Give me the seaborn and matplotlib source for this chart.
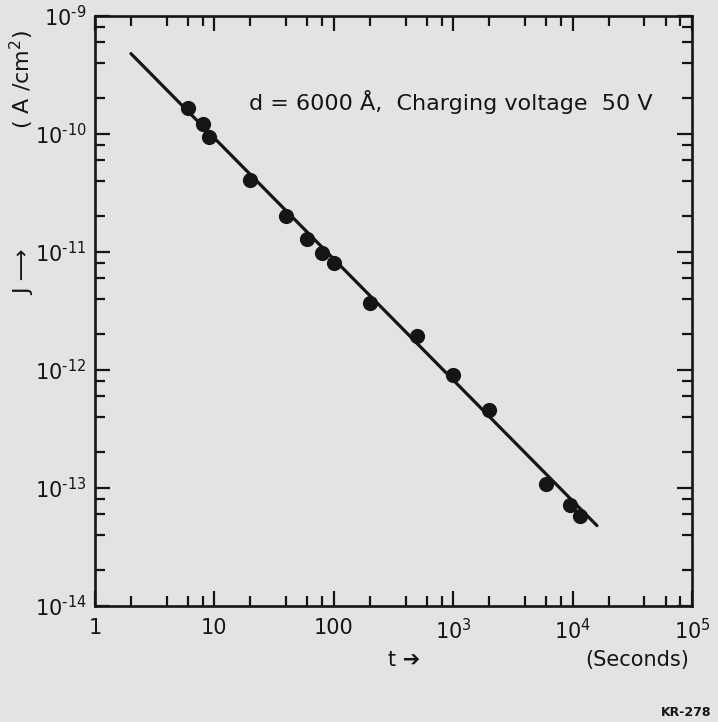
import numpy as np
import pandas as pd
import matplotlib
matplotlib.use('Agg')
import matplotlib.pyplot as plt
import seaborn as sns
from matplotlib.ticker import FixedLocator, FixedFormatter, NullFormatter

# ---- data ----
time_s = [6, 8, 9, 20, 40, 60, 80, 100, 200, 500, 1000, 2000, 6000, 9500, 11500]
current = [1.66e-10, 1.22e-10, 9.4e-11, 4.07e-11, 2.02e-11, 1.29e-11, 9.8e-12,
           8.07e-12, 3.7e-12, 1.94e-12, 9.1e-13, 4.58e-13, 1.08e-13, 7.2e-14, 5.8e-14]
fit_time = [2, 16000]
fit_current = [4.8e-10, 4.8e-14]

x_ticks = [1, 10, 100, 1e3, 1e4, 1e5]
x_labels = ['1', '10', '100', r'$10^3$', r'$10^4$', r'$10^5$']
y_ticks = [1e-14, 1e-13, 1e-12, 1e-11, 1e-10, 1e-9]
y_labels = ['$10^{\u2010' + e + '}$' for e in ['14', '13', '12', '11', '10', '9']]
minor_mult = [2, 4, 6, 8]

points = pd.DataFrame({'t': time_s, 'J': current})
fit = pd.DataFrame({'t': fit_time, 'J': fit_current})

paper = '#e3e3e1'
ink = '#151515'

sns.set_style('ticks')
plt.rcParams['font.family'] = ['DejaVu Sans']
plt.rcParams['mathtext.fontset'] = 'dejavusans'

fig = plt.figure(figsize=(7.18, 7.22), dpi=100, facecolor=paper)
ax = fig.add_axes([95 / 718, 1 - 606 / 722, 597 / 718, 590 / 722])
ax.set_facecolor(paper)
ax.set_xscale('log')
ax.set_yscale('log')

sns.lineplot(data=fit, x='t', y='J', ax=ax, color=ink, linewidth=2.3,
             estimator=None, sort=False, legend=False)
sns.scatterplot(data=points, x='t', y='J', ax=ax, color=ink, s=120,
                edgecolor=ink, linewidth=0, legend=False, zorder=3)

ax.set_xlim(1, 1e5)
ax.set_ylim(1e-14, 1e-9)

ax.xaxis.set_major_locator(FixedLocator(x_ticks))
ax.xaxis.set_major_formatter(FixedFormatter(x_labels))
ax.yaxis.set_major_locator(FixedLocator(y_ticks))
ax.yaxis.set_major_formatter(FixedFormatter(y_labels))
x_minor = [m * 10.0 ** k for k in range(0, 5) for m in minor_mult]
y_minor = [m * 10.0 ** k for k in range(-14, -9) for m in minor_mult]
ax.xaxis.set_minor_locator(FixedLocator(x_minor))
ax.yaxis.set_minor_locator(FixedLocator(y_minor))
ax.xaxis.set_minor_formatter(NullFormatter())
ax.yaxis.set_minor_formatter(NullFormatter())

ax.tick_params(which='both', direction='in', top=True, right=True,
               color=ink, labelcolor=ink, width=1.6)
ax.tick_params(which='major', length=11, labelsize=15)
ax.tick_params(which='minor', length=7)
ax.tick_params(axis='x', which='major', pad=9)
ax.tick_params(axis='y', which='major', pad=6)
for sp in ax.spines.values():
    sp.set_color(ink)
    sp.set_linewidth(1.9)

ax.set_xlabel('')
ax.set_ylabel('')

ax.text(0.596, 0.854, 'd = 6000 Å,  Charging voltage  50 V', transform=ax.transAxes,
        ha='center', va='center', fontsize=16, color=ink)

fig.text(22 / 718, 1 - 80 / 722, r'( A /cm$^2$)', rotation=90, ha='center', va='center',
         fontsize=16, color=ink)
fig.text(24 / 718, 1 - 272 / 722, 'J \u27F6', rotation=90, ha='center', va='center',
         fontsize=16, color=ink)
fig.text(404 / 718, 1 - 660 / 722, 't \u2794', ha='center', va='center',
         fontsize=15, color=ink)
fig.text(637 / 718, 1 - 660 / 722, '(Seconds)', ha='center', va='center',
         fontsize=15, color=ink)
fig.text(686 / 718, 1 - 712 / 722, 'KR-278', ha='center', va='center',
         fontsize=9, fontweight='bold', color=ink)

fig.savefig('out.png', dpi=100, facecolor=paper)
